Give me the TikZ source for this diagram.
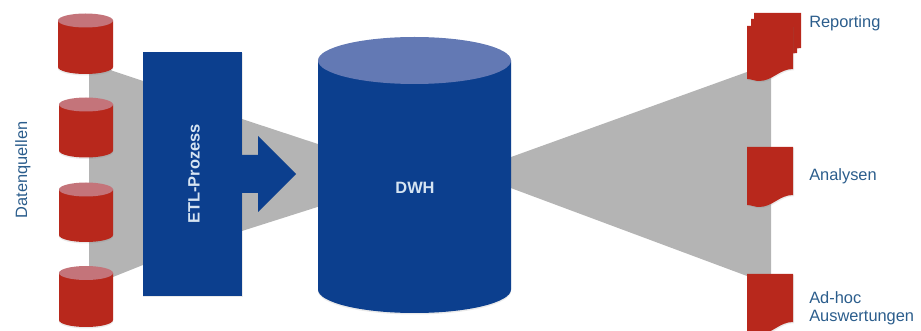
\documentclass[tikz,border=0pt]{standalone}
\usepackage{fontspec}
\setmainfont{Liberation Sans}
\definecolor{dbred}{HTML}{B8281C}
\definecolor{dbredtop}{HTML}{C4747A}
\definecolor{etlblue}{HTML}{0C3F8E}
\definecolor{dwhtop}{HTML}{6379B4}
\definecolor{funnel}{HTML}{B4B4B4}
\definecolor{labelblue}{HTML}{2B5D8C}
\definecolor{dwhlabel}{HTML}{D6E4F2}
\tikzset{
  shadowed/.style={fill=black!55,opacity=.15},
  sidelabel/.style={text=labelblue,font=\fontsize{12.3pt}{15pt}\selectfont,inner sep=0pt},
  boxlabel/.style={text=dwhlabel,font=\fontsize{12.3pt}{15pt}\selectfont\bfseries,inner sep=0pt},
}
% x left, x right, top of ellipse, ellipse half height, bottom, side colour, top colour
\newcommand{\cylshape}[7]{%
  \pgfmathsetmacro{\cxm}{(#1+#2)/2}\pgfmathsetmacro{\crx}{(#2-#1)/2}%
  \pgfmathsetmacro{\cyt}{#3+#4}\pgfmathsetmacro{\cyb}{#5-#4}%
  \fill[shadowed] (#1,\cyt+1.5) -- (#1,\cyb+1.5) arc[start angle=180,end angle=360,x radius=\crx,y radius=-#4] -- (#2,\cyt+1.5) -- cycle;
  \fill[#6] (#1,\cyt) -- (#1,\cyb) arc[start angle=180,end angle=360,x radius=\crx,y radius=-#4] -- (#2,\cyt) -- cycle;
  \fill[#7] (\cxm,\cyt) ellipse[x radius=\crx,y radius=#4];
}
% x left, y top, width, height: flat top, wavy bottom rising to the right
\newcommand{\docpath}[4]{%
  (#1,#2) -- ++(#3,0) -- ++(0,{#4-12}) .. controls +({-#3*.3},0) and +({#3*.3},0) .. ++({-#3*.74},12) .. controls +({-#3*.1},0) and +({#3*.1},0) .. ++({-#3*.26},-2) -- cycle}
\newcommand{\docshape}[4]{%
  \fill[shadowed,shift={(1,1.2)}] \docpath{#1}{#2}{#3}{#4};
  \fill[dbred] \docpath{#1}{#2}{#3}{#4};
}
\begin{document}
\begin{tikzpicture}[x=0.75pt,y=-0.75pt]
\useasboundingbox (0,0) rectangle (921,331);
\clip (0,0) rectangle (921,331);
% funnels
\fill[funnel] (89,60) -- (113,71) -- (143,81) -- (143,265) -- (113,277) -- (89,285) -- cycle;
\fill[funnel] (242,119) -- (330,148) -- (330,203) -- (242,231) -- cycle;
\fill[funnel] (500,161) -- (747,72) -- (771,72) -- (771,276) -- (747,276) -- (500,184) -- cycle;
% sources
\cylshape{58}{113}{13.5}{7}{74}{dbred}{dbredtop}
\cylshape{59}{113}{97.5}{7}{157.5}{dbred}{dbredtop}
\cylshape{59}{113}{182.5}{7}{242}{dbred}{dbredtop}
\cylshape{59}{113}{266}{7}{327}{dbred}{dbredtop}
% ETL
\fill[shadowed] (143,53.5) rectangle (243,297.5);
\fill[etlblue] (143,52) rectangle (242,296);
\fill[etlblue] (240,155) -- (258,155) -- (258,136) -- (296,174) -- (258,212) -- (258,193) -- (240,193) -- cycle;
% DWH
\cylshape{318}{511}{37}{23.5}{313}{etlblue}{dwhtop}
% documents
\fill[dbred] \docpath{754}{13}{47}{47};
\fill[dbred] \docpath{751}{19}{46}{46};
\docshape{747}{26}{46}{55}
\docshape{747}{147}{46}{60}
\docshape{747}{274}{46}{60}
% labels
\node[sidelabel,rotate=90] (quellen) at (23,170) {Datenquellen};
\node[boxlabel,rotate=90] (etl) at (194,174) {ETL-Prozess};
\node[boxlabel] (dwh) at (415,188) {DWH};
\node[sidelabel,anchor=west] (reporting) at (809,23) {Reporting};
\node[sidelabel,anchor=west] (analysen) at (809,176.5) {Analysen};
\node[sidelabel,anchor=west] (adhoc) at (809,298) {Ad-hoc};
\node[sidelabel,anchor=west] (ausw) at (809,318) {Auswertungen};
\end{tikzpicture}
\end{document}
